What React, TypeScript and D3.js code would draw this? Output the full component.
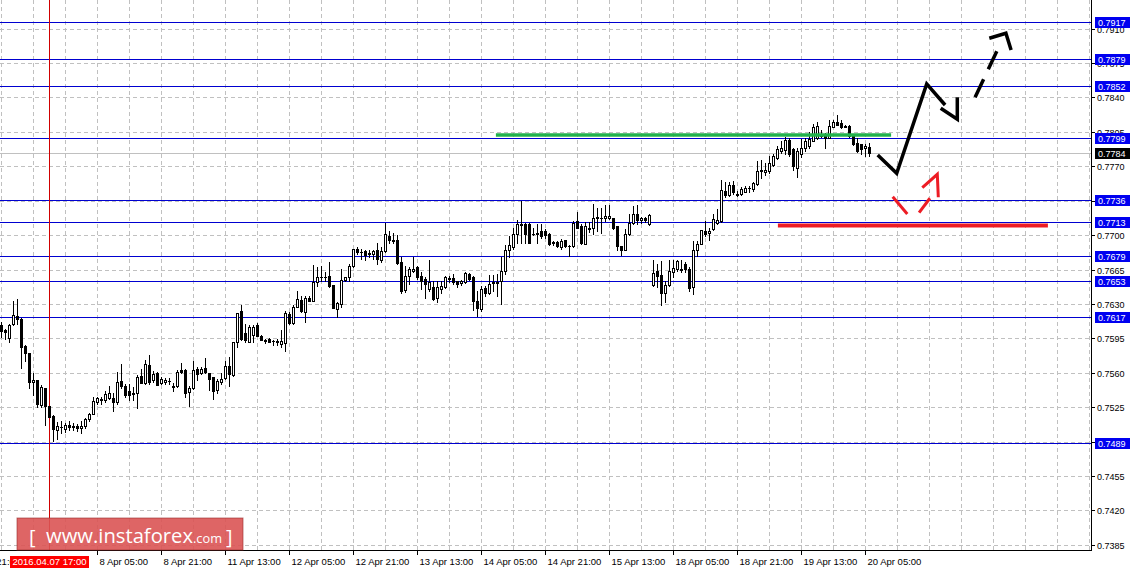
import React from "react";
import * as d3 from "d3";

const W = 1142;
const H = 569;
const PLOT_R = 1091;
const PLOT_B = 550;

// Hourly AUDUSD candles (bar index 0 = 2016.04.07 05:00)
const opens = [
  0.7609, 0.7604, 0.7596, 0.7610, 0.7618, 0.7615, 0.7588, 0.7581, 0.7551, 0.7553,
  0.7528, 0.7545, 0.7527, 0.7517, 0.7502, 0.7505, 0.7503, 0.7507, 0.7505, 0.7506,
  0.7504, 0.7506, 0.7513, 0.7519, 0.7531, 0.7533, 0.7533, 0.7535, 0.7535, 0.7531,
  0.7552, 0.7547, 0.7542, 0.7540, 0.7540, 0.7557, 0.7550, 0.7568, 0.7553, 0.7560,
  0.7550, 0.7551, 0.7552, 0.7547, 0.7547, 0.7563, 0.7563, 0.7541, 0.7545, 0.7564,
  0.7560, 0.7565, 0.7560, 0.7556, 0.7543, 0.7551, 0.7555, 0.7567, 0.7558, 0.7592,
  0.7623, 0.7601, 0.7592, 0.7599, 0.7609, 0.7598, 0.7594, 0.7595, 0.7593, 0.7593,
  0.7590, 0.7591, 0.7620, 0.7611, 0.7627, 0.7635, 0.7622, 0.7637, 0.7634, 0.7653,
  0.7658, 0.7658, 0.7659, 0.7650, 0.7625, 0.7630, 0.7655, 0.7658, 0.7669, 0.7686,
  0.7683, 0.7684, 0.7682, 0.7681, 0.7685, 0.7675, 0.7684, 0.7700, 0.7696, 0.7696,
  0.7673, 0.7645, 0.7659, 0.7664, 0.7668, 0.7659, 0.7656, 0.7646, 0.7648, 0.7637,
  0.7646, 0.7648, 0.7656, 0.7657, 0.7654, 0.7652, 0.7653, 0.7661, 0.7658, 0.7634,
  0.7625, 0.7647, 0.7642, 0.7652, 0.7653, 0.7654, 0.7664, 0.7685, 0.7688, 0.7702,
  0.7712, 0.7712, 0.7712, 0.7702, 0.7702, 0.7705, 0.7705, 0.7702, 0.7692, 0.7694,
  0.7688, 0.7696, 0.7689, 0.7689, 0.7715, 0.7710, 0.7691, 0.7708, 0.7708, 0.7719,
  0.7718, 0.7718, 0.7718, 0.7718, 0.7710, 0.7689, 0.7685, 0.7702, 0.7713, 0.7722,
  0.7716, 0.7718, 0.7712, 0.7650, 0.7664, 0.7660, 0.7642, 0.7650, 0.7663, 0.7666,
  0.7666, 0.7671, 0.7666, 0.7648, 0.7685, 0.7691, 0.7705, 0.7703, 0.7707, 0.7713,
  0.7715, 0.7745, 0.7741, 0.7752, 0.7742, 0.7742, 0.7744, 0.7748, 0.7747, 0.7753,
  0.7767, 0.7765, 0.7766, 0.7772, 0.7779, 0.7786, 0.7787, 0.7797, 0.7788, 0.7769,
  0.7783, 0.7789, 0.7791, 0.7796, 0.7799, 0.7801, 0.7803, 0.7799, 0.7811, 0.7816,
  0.7815, 0.7810, 0.7812, 0.7801, 0.7794, 0.7793, 0.7789, 0.7790,
];
const highs = [
  0.7612, 0.7605, 0.7610, 0.7634, 0.7636, 0.7616, 0.7589, 0.7581, 0.7560, 0.7553,
  0.7548, 0.7545, 0.7527, 0.7518, 0.7510, 0.7511, 0.7509, 0.7511, 0.7509, 0.7508,
  0.7511, 0.7514, 0.7520, 0.7536, 0.7536, 0.7536, 0.7542, 0.7547, 0.7540, 0.7561,
  0.7569, 0.7549, 0.7549, 0.7546, 0.7558, 0.7564, 0.7573, 0.7579, 0.7562, 0.7561,
  0.7556, 0.7555, 0.7555, 0.7550, 0.7563, 0.7570, 0.7564, 0.7547, 0.7572, 0.7566,
  0.7566, 0.7576, 0.7560, 0.7556, 0.7554, 0.7560, 0.7572, 0.7577, 0.7592, 0.7621,
  0.7629, 0.7610, 0.7609, 0.7609, 0.7611, 0.7599, 0.7595, 0.7596, 0.7594, 0.7595,
  0.7604, 0.7623, 0.7622, 0.7629, 0.7644, 0.7639, 0.7639, 0.7639, 0.7670, 0.7668,
  0.7669, 0.7663, 0.7673, 0.7650, 0.7632, 0.7666, 0.7658, 0.7671, 0.7686, 0.7688,
  0.7686, 0.7685, 0.7685, 0.7685, 0.7693, 0.7688, 0.7713, 0.7705, 0.7703, 0.7701,
  0.7678, 0.7669, 0.7668, 0.7678, 0.7669, 0.7663, 0.7658, 0.7675, 0.7654, 0.7654,
  0.7654, 0.7659, 0.7659, 0.7661, 0.7654, 0.7655, 0.7663, 0.7662, 0.7659, 0.7644,
  0.7649, 0.7649, 0.7660, 0.7660, 0.7661, 0.7678, 0.7690, 0.7700, 0.7708, 0.7716,
  0.7735, 0.7713, 0.7713, 0.7708, 0.7712, 0.7712, 0.7707, 0.7703, 0.7695, 0.7695,
  0.7697, 0.7696, 0.7690, 0.7715, 0.7724, 0.7712, 0.7714, 0.7714, 0.7732, 0.7728,
  0.7728, 0.7731, 0.7731, 0.7718, 0.7710, 0.7689, 0.7707, 0.7722, 0.7730, 0.7731,
  0.7719, 0.7719, 0.7722, 0.7675, 0.7671, 0.7674, 0.7654, 0.7675, 0.7675, 0.7675,
  0.7675, 0.7673, 0.7668, 0.7695, 0.7695, 0.7706, 0.7715, 0.7708, 0.7722, 0.7727,
  0.7757, 0.7755, 0.7755, 0.7756, 0.7745, 0.7749, 0.7750, 0.7750, 0.7755, 0.7776,
  0.7777, 0.7774, 0.7781, 0.7783, 0.7791, 0.7796, 0.7800, 0.7799, 0.7789, 0.7789,
  0.7798, 0.7799, 0.7805, 0.7814, 0.7816, 0.7807, 0.7804, 0.7818, 0.7818, 0.7823,
  0.7818, 0.7813, 0.7813, 0.7801, 0.7799, 0.7793, 0.7793, 0.7794,
];
const lows = [
  0.7597, 0.7595, 0.7592, 0.7609, 0.7610, 0.7565, 0.7572, 0.7545, 0.7538, 0.7526,
  0.7526, 0.7507, 0.7515, 0.7491, 0.7493, 0.7499, 0.7500, 0.7502, 0.7502, 0.7501,
  0.7499, 0.7504, 0.7511, 0.7519, 0.7529, 0.7529, 0.7531, 0.7534, 0.7522, 0.7529,
  0.7545, 0.7536, 0.7533, 0.7533, 0.7525, 0.7550, 0.7549, 0.7549, 0.7551, 0.7548,
  0.7549, 0.7549, 0.7549, 0.7542, 0.7546, 0.7560, 0.7536, 0.7527, 0.7544, 0.7553,
  0.7559, 0.7560, 0.7543, 0.7534, 0.7540, 0.7549, 0.7554, 0.7547, 0.7557, 0.7587,
  0.7594, 0.7592, 0.7592, 0.7592, 0.7598, 0.7594, 0.7591, 0.7592, 0.7589, 0.7589,
  0.7587, 0.7583, 0.7610, 0.7610, 0.7627, 0.7622, 0.7612, 0.7634, 0.7634, 0.7649,
  0.7654, 0.7654, 0.7648, 0.7626, 0.7617, 0.7627, 0.7654, 0.7654, 0.7668, 0.7681,
  0.7676, 0.7675, 0.7678, 0.7676, 0.7671, 0.7673, 0.7683, 0.7693, 0.7693, 0.7671,
  0.7642, 0.7643, 0.7651, 0.7663, 0.7656, 0.7646, 0.7637, 0.7644, 0.7635, 0.7632,
  0.7642, 0.7647, 0.7653, 0.7651, 0.7648, 0.7650, 0.7652, 0.7655, 0.7624, 0.7618,
  0.7623, 0.7639, 0.7641, 0.7644, 0.7639, 0.7630, 0.7661, 0.7678, 0.7686, 0.7693,
  0.7692, 0.7693, 0.7693, 0.7701, 0.7693, 0.7698, 0.7698, 0.7690, 0.7690, 0.7688,
  0.7686, 0.7688, 0.7679, 0.7688, 0.7708, 0.7691, 0.7691, 0.7704, 0.7702, 0.7705,
  0.7703, 0.7715, 0.7717, 0.7707, 0.7685, 0.7680, 0.7685, 0.7701, 0.7712, 0.7712,
  0.7713, 0.7714, 0.7711, 0.7649, 0.7648, 0.7629, 0.7632, 0.7649, 0.7658, 0.7664,
  0.7663, 0.7663, 0.7644, 0.7641, 0.7679, 0.7691, 0.7700, 0.7696, 0.7706, 0.7712,
  0.7714, 0.7739, 0.7740, 0.7742, 0.7740, 0.7741, 0.7744, 0.7744, 0.7745, 0.7752,
  0.7759, 0.7762, 0.7764, 0.7771, 0.7778, 0.7784, 0.7783, 0.7781, 0.7767, 0.7760,
  0.7780, 0.7786, 0.7789, 0.7796, 0.7798, 0.7800, 0.7789, 0.7799, 0.7810, 0.7813,
  0.7809, 0.7810, 0.7800, 0.7792, 0.7785, 0.7783, 0.7781, 0.7781,
];
const closes = [
  0.7603, 0.7602, 0.7609, 0.7619, 0.7615, 0.7587, 0.7581, 0.7551, 0.7553, 0.7529,
  0.7546, 0.7527, 0.7515, 0.7503, 0.7506, 0.7505, 0.7507, 0.7505, 0.7506, 0.7504,
  0.7506, 0.7513, 0.7519, 0.7532, 0.7535, 0.7534, 0.7539, 0.7540, 0.7531, 0.7551,
  0.7547, 0.7538, 0.7538, 0.7539, 0.7556, 0.7550, 0.7569, 0.7551, 0.7559, 0.7548,
  0.7554, 0.7553, 0.7552, 0.7546, 0.7561, 0.7561, 0.7540, 0.7545, 0.7563, 0.7559,
  0.7564, 0.7561, 0.7554, 0.7542, 0.7552, 0.7554, 0.7567, 0.7559, 0.7592, 0.7621,
  0.7595, 0.7594, 0.7607, 0.7607, 0.7598, 0.7594, 0.7593, 0.7592, 0.7593, 0.7592,
  0.7593, 0.7621, 0.7611, 0.7627, 0.7636, 0.7623, 0.7637, 0.7634, 0.7653, 0.7658,
  0.7658, 0.7658, 0.7649, 0.7626, 0.7631, 0.7655, 0.7658, 0.7669, 0.7686, 0.7683,
  0.7683, 0.7680, 0.7681, 0.7684, 0.7676, 0.7684, 0.7702, 0.7696, 0.7695, 0.7672,
  0.7644, 0.7659, 0.7666, 0.7666, 0.7658, 0.7654, 0.7651, 0.7653, 0.7636, 0.7648,
  0.7649, 0.7658, 0.7657, 0.7653, 0.7651, 0.7654, 0.7662, 0.7656, 0.7633, 0.7626,
  0.7646, 0.7642, 0.7651, 0.7653, 0.7652, 0.7664, 0.7685, 0.7690, 0.7702, 0.7712,
  0.7711, 0.7702, 0.7693, 0.7702, 0.7703, 0.7700, 0.7701, 0.7691, 0.7694, 0.7689,
  0.7695, 0.7689, 0.7689, 0.7713, 0.7708, 0.7692, 0.7710, 0.7707, 0.7718, 0.7718,
  0.7718, 0.7720, 0.7720, 0.7708, 0.7689, 0.7685, 0.7702, 0.7713, 0.7722, 0.7716,
  0.7718, 0.7716, 0.7721, 0.7662, 0.7659, 0.7642, 0.7650, 0.7664, 0.7667, 0.7674,
  0.7665, 0.7666, 0.7647, 0.7685, 0.7691, 0.7706, 0.7702, 0.7705, 0.7717, 0.7716,
  0.7746, 0.7741, 0.7752, 0.7744, 0.7741, 0.7747, 0.7748, 0.7748, 0.7754, 0.7766,
  0.7766, 0.7767, 0.7774, 0.7781, 0.7788, 0.7789, 0.7797, 0.7783, 0.7771, 0.7786,
  0.7789, 0.7796, 0.7798, 0.7811, 0.7812, 0.7801, 0.7799, 0.7812, 0.7816, 0.7813,
  0.7810, 0.7812, 0.7801, 0.7793, 0.7786, 0.7788, 0.7791, 0.7784,
];

// Price axis grid ticks
const gridTicks = [
  "0.7385", "0.7420", "0.7455", "0.7490", "0.7525", "0.7560", "0.7595", "0.7630",
  "0.7665", "0.7700", "0.7735", "0.7770", "0.7805", "0.7840", "0.7875", "0.7910",
];
// Horizontal support / resistance levels (blue)
const levels = [0.7917, 0.7879, 0.7852, 0.7799, 0.7736, 0.7713, 0.7679, 0.7653, 0.7617, 0.7489];
const currentPrice = 0.7784;

// Time axis labels: [bar index, label]
const timeBars = [-8, 24, 40, 56, 72, 88, 104, 120, 136, 152, 168, 184, 200, 216];
const timeLabels = [
  "6 Apr 21:00", "8 Apr 05:00", "8 Apr 21:00", "11 Apr 13:00", "12 Apr 05:00",
  "12 Apr 21:00", "13 Apr 13:00", "14 Apr 05:00", "14 Apr 21:00", "15 Apr 13:00",
  "18 Apr 05:00", "18 Apr 21:00", "19 Apr 13:00", "20 Apr 05:00",
];
const vlineBar = 12;
const vlineLabel = "2016.04.07 17:00";

// Hand-drawn annotations: [bar index, price]
const greenLevel = { from: 123.6, to: 222.4, price: 0.78024 };
const redLevel = { from: 194.1, to: 261.6, price: 0.77104 };
const blackSolid1: [number, number][] = [[219.05, 0.77821], [223.8, 0.77634], [231.3, 0.78543], [235.9, 0.78329]];
const blackSolid2: [number, number][] = [[234.8, 0.78296], [238.95, 0.78184], [238.95, 0.78407]];
const blackDashed: [number, number][] = [[243.4, 0.78407], [249.05, 0.78896]];
const blackHead: [number, number][] = [[246.95, 0.79008], [251.1, 0.79059], [252.4, 0.78889]];
const redSeg1: [number, number][] = [[222.8, 0.77396], [226.45, 0.7722]];
const redSeg2: [number, number][] = [[229.4, 0.77234], [232.1, 0.7738]];
const redHead: [number, number][] = [[230.2, 0.77488], [233.95, 0.77624], [234.2, 0.7739]];

const AXIS_FONT = "'Liberation Sans', Arial, sans-serif";

export default function App() {
  const x = d3.scaleLinear().domain([0, 1]).range([1.5, 5.5]);
  const y = d3.scaleLinear().domain([0.7385, 0.7917]).range([545.3, 22.3]);
  const line = d3.line<[number, number]>().x((d) => x(d[0])).y((d) => y(d[1]));
  const py = (p: number) => Math.floor(y(p)) + 0.5;

  const gridX = d3.range(0, 137).map((k) => x(k * 8)).filter((v) => v < PLOT_R);

  const candles = opens.map((o, i) => ({ i, o, h: highs[i], l: lows[i], c: closes[i] }));

  return (
    <svg
      width={W}
      height={H}
      style={{ position: "absolute", left: 0, top: 0, background: "#fff" }}
    >
      <defs>
        <clipPath id="plot">
          <rect x={0} y={0} width={PLOT_R} height={PLOT_B} />
        </clipPath>
      </defs>
      <rect x={0} y={0} width={W} height={H} fill="#fff" />
      <g clipPath="url(#plot)">
        {/* grid */}
        {gridTicks.map((t) => (
          <line key={t} x1={0} x2={PLOT_R} y1={py(+t)} y2={py(+t)} stroke="#c0c0c0" strokeDasharray="4 3" />
        ))}
        {gridX.map((gx) => (
          <line key={gx} x1={gx} x2={gx} y1={0} y2={PLOT_B} stroke="#c0c0c0" strokeDasharray="4 3" />
        ))}
        {/* levels */}
        {levels.map((p) => (
          <line key={p} x1={0} x2={PLOT_R} y1={py(p)} y2={py(p)} stroke="#0000d0" strokeWidth={1} />
        ))}
        <line x1={0} x2={PLOT_R} y1={py(currentPrice)} y2={py(currentPrice)} stroke="#c0c0c0" />
        {/* vertical line */}
        <line x1={x(vlineBar)} x2={x(vlineBar)} y1={0} y2={PLOT_B} stroke="#d00000" />
        {/* candles */}
        {candles.map((d) => {
          const xc = x(d.i);
          const yh = Math.round(y(d.h));
          const yl = Math.round(y(d.l));
          const top = Math.round(y(Math.max(d.o, d.c)));
          const bot = Math.round(y(Math.min(d.o, d.c)));
          const up = d.c >= d.o;
          return (
            <g key={d.i}>
              <line x1={xc} x2={xc} y1={yh} y2={yl + 1} stroke="#000" />
              {bot - top < 1 ? (
                <line x1={xc - 1.5} x2={xc + 1.5} y1={top + 0.5} y2={top + 0.5} stroke="#000" />
              ) : up ? (
                <rect x={xc - 1} y={top + 0.5} width={2} height={bot - top} fill="#fff" stroke="#000" />
              ) : (
                <rect x={xc - 1.5} y={top} width={3} height={bot - top + 1} fill="#000" />
              )}
            </g>
          );
        })}
        {/* annotations */}
        <line x1={x(greenLevel.from)} x2={x(greenLevel.to)} y1={y(greenLevel.price)} y2={y(greenLevel.price)} stroke="#22b14c" strokeWidth={3.5} />
        <line x1={x(redLevel.from)} x2={x(redLevel.to)} y1={y(redLevel.price)} y2={y(redLevel.price)} stroke="#ed1c24" strokeWidth={4} />
        <path d={line(blackSolid1) || ""} fill="none" stroke="#000" strokeWidth={3.5} strokeLinejoin="miter" />
        <path d={line(blackSolid2) || ""} fill="none" stroke="#000" strokeWidth={3.5} strokeLinejoin="miter" />
        <path d={line(blackDashed) || ""} fill="none" stroke="#000" strokeWidth={3.5} strokeDasharray="20 11" />
        <path d={line(blackHead) || ""} fill="none" stroke="#000" strokeWidth={3.5} strokeLinejoin="miter" />
        <path d={line(redSeg1) || ""} fill="none" stroke="#ed1c24" strokeWidth={3} />
        <path d={line(redSeg2) || ""} fill="none" stroke="#ed1c24" strokeWidth={3} />
        <path d={line(redHead) || ""} fill="none" stroke="#ed1c24" strokeWidth={3} strokeLinejoin="miter" />
      </g>

      {/* axes */}
      <line x1={0} x2={PLOT_R + 0.5} y1={PLOT_B + 0.5} y2={PLOT_B + 0.5} stroke="#000" />
      <line x1={PLOT_R + 0.5} x2={PLOT_R + 0.5} y1={0} y2={PLOT_B + 1} stroke="#000" />

      {/* logo */}
      <g>
        <rect x={17} y={518} width={226} height={32} fill="rgb(218,84,84)" fillOpacity={0.9} stroke="rgba(150,40,40,0.6)" />
        <text x={29} y={544} fill="#fff" fontFamily="'Open Sans', sans-serif" fontSize={20}>[</text>
        <text x={46} y={543} fill="#fff" fontFamily="'Open Sans', sans-serif" fontSize={20} textLength={147} lengthAdjust="spacingAndGlyphs">www.instaforex</text>
        <text x={193} y={543} fill="#fff" fontFamily="'Open Sans', sans-serif" fontSize={13} textLength={29} lengthAdjust="spacingAndGlyphs">.com</text>
        <text x={226} y={544} fill="#fff" fontFamily="'Open Sans', sans-serif" fontSize={20}>]</text>
      </g>

      {/* price axis */}
      {gridTicks.map((t) => (
        <g key={t}>
          <line x1={PLOT_R + 1} x2={PLOT_R + 4} y1={py(+t)} y2={py(+t)} stroke="#000" />
          <text x={1097} y={py(+t)} dy="0.35em" fontFamily={AXIS_FONT} fontSize={9} fill="#000">{t}</text>
        </g>
      ))}
      {levels.map((p) => (
        <g key={p}>
          <rect x={1095} y={py(p) - 5.5} width={35} height={11} fill="#0000f0" />
          <text x={1098} y={py(p)} dy="0.35em" fontFamily={AXIS_FONT} fontSize={9} fill="#fff">{p.toFixed(4)}</text>
        </g>
      ))}
      <rect x={1095} y={py(currentPrice) - 5.5} width={35} height={11} fill="#000" />
      <text x={1098} y={py(currentPrice)} dy="0.35em" fontFamily={AXIS_FONT} fontSize={9} fill="#fff">{currentPrice.toFixed(4)}</text>

      {/* time axis */}
      {timeBars.map((b, k) => (
        <g key={b}>
          <line x1={x(b)} x2={x(b)} y1={PLOT_B + 1} y2={PLOT_B + 5} stroke="#000" />
          <text x={x(b) + 2} y={565} fontFamily={AXIS_FONT} fontSize={9.5} fill="#000">{timeLabels[k]}</text>
        </g>
      ))}
      <rect x={x(vlineBar) - 39.5} y={556} width={79} height={12} fill="#ff0000" />
      <text x={x(vlineBar)} y={565} textAnchor="middle" fontFamily={AXIS_FONT} fontSize={9.5} fill="#fff">{vlineLabel}</text>
    </svg>
  );
}
